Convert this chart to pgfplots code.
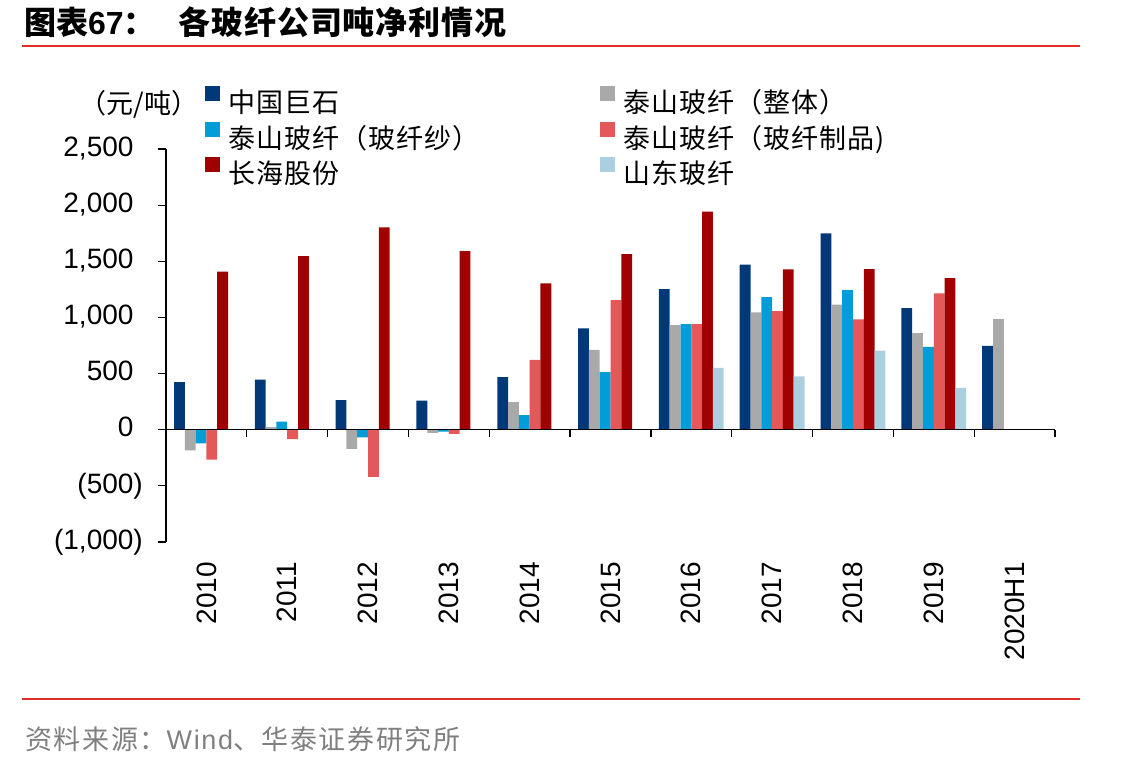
\documentclass[border=0pt]{standalone}
\usepackage{pgfplots}
\pgfplotsset{compat=1.18}
\usepackage{fontspec}
\setmainfont{Liberation Sans}
\newfontfamily\cjk{Noto Sans CJK SC}
\newfontfamily\cjkls{Noto Sans CJK SC}[LetterSpace=4]
\newfontfamily\cjkt{Noto Sans CJK SC}[LetterSpace=3]
\newfontfamily\srcfont{Liberation Sans}[LetterSpace=6]
\newfontfamily\srccjk{Noto Sans CJK SC}[LetterSpace=6]
\definecolor{c1}{RGB}{0,56,120}
\definecolor{c2}{RGB}{169,169,169}
\definecolor{c3}{RGB}{0,157,217}
\definecolor{c4}{RGB}{228,88,90}
\definecolor{c5}{RGB}{160,0,0}
\definecolor{c6}{RGB}{170,208,224}
\definecolor{hred}{RGB}{226,45,35}
\definecolor{srcgray}{RGB}{128,128,128}
\begin{document}
\begin{tikzpicture}[x=1pt,y=1pt]
\useasboundingbox (0,0) rectangle (1137,-767);
\fill[white] (0,0) rectangle (1137,-767);
% title
\node[anchor=west, inner sep=0pt] at (24,-22) {\fontsize{32}{32}\selectfont\cjk\bfseries 图表{\normalfont\bfseries 67}：};
\node[anchor=west, inner sep=0pt] at (178,-22) {\fontsize{32}{32}\selectfont\cjkt\bfseries 各玻纤公司吨净利情况};
\draw[hred, line width=2.5pt] (22,-46) -- (1080,-46);
% footer
\draw[hred, line width=2.5pt] (22,-699) -- (1080,-699);
\node[anchor=west, inner sep=0pt, text=srcgray] at (25,-739) {\fontsize{27}{27}\selectfont{\srccjk 资料来源：}{\srcfont Wind}{\srccjk 、华泰证券研究所}};
% unit
\node[inner sep=0pt] at (139,-104) {\fontsize{27}{27}\selectfont\cjk （元/吨）};

\begin{axis}[
  at={(166pt,-542pt)}, anchor=south west,
  scale only axis, width=889pt, height=393pt,
  xmin=-0.5, xmax=10.5, ymin=-1000, ymax=2500,
  ybar=0pt, bar width=10.8pt,
  every axis plot post/.append style={legend image code/.code={\fill[##1] (0pt,2.5pt) rectangle (15pt,17.5pt);}},
  axis x line=bottom, axis y line=left,
  axis line style={-, black, line width=1.2pt},
  x axis line style={draw=none},
  xtick={0,1,2,3,4,5,6,7,8,9,10},
  xticklabels={2010,2011,2012,2013,2014,2015,2016,2017,2018,2019,2020H1},
  xtick style={draw=none},
  xticklabel style={rotate=90, anchor=east, inner sep=0pt, font=\fontsize{28}{28}\selectfont},
  xticklabel shift=12pt,
  ytick={-1000,-500,0,500,1000,1500,2000,2500},
  yticklabels={{(1,000)},{(500)},{0\phantom{)}},{500\phantom{)}},{1,000\phantom{)}},{1,500\phantom{)}},{2,000\phantom{)}},{2,500\phantom{)}}},
  yticklabel style={anchor=east, inner sep=0pt, font=\fontsize{28}{28}\selectfont},
  yticklabel shift=15pt,
  ytick style={black, line width=1.2pt},
  tick align=outside, major tick length=8pt,
  legend columns=2, legend cell align=left,
  legend style={at={(axis description cs:0.0439,1.1603)}, anchor=north west,
    draw=none, fill=none, inner sep=0pt, outer sep=0pt,
    font=\cjkls\fontsize{27}{27}\selectfont, row sep=5pt,
    nodes={inner sep=0pt, text height=22pt, text depth=4pt, text width=253pt},
    /tikz/every odd column/.append style={column sep=8pt},
    /tikz/every even column/.append style={column sep=119pt}},
]
\addplot[fill=c1, draw=none] coordinates {(0,424) (1,447) (2,264) (3,258) (4,468) (5,903) (6,1252) (7,1471) (8,1748) (9,1083) (10,746)};
\addlegendentry{中国巨石}
\addplot[fill=c2, draw=none] coordinates {(0,-184) (1,24) (2,-171) (3,-29) (4,246) (5,710) (6,932) (7,1045) (8,1113) (9,861) (10,986)};
\addlegendentry{泰山玻纤（整体）}
\addplot[fill=c3, draw=none] coordinates {(0,-122) (1,71) (2,-68) (3,-18) (4,130) (5,512) (6,941) (7,1181) (8,1243) (9,737)};
\addlegendentry{泰山玻纤（玻纤纱）}
\addplot[fill=c4, draw=none] coordinates {(0,-266) (1,-83) (2,-420) (3,-36) (4,622) (5,1154) (6,941) (7,1057) (8,983) (9,1214)};
\addlegendentry{泰山玻纤（玻纤制品)}
\addplot[fill=c5, draw=none] coordinates {(0,1409) (1,1545) (2,1803) (3,1590) (4,1303) (5,1563) (6,1942) (7,1427) (8,1430) (9,1350)};
\addlegendentry{长海股份}
\addplot[fill=c6, draw=none] coordinates {(6,550) (7,476) (8,704) (9,373)};
\addlegendentry{山东玻纤}
\end{axis}
\begin{axis}[
  at={(166pt,-542pt)}, anchor=south west,
  scale only axis, width=889pt, height=393pt,
  xmin=-0.5, xmax=10.5, ymin=-1000, ymax=2500,
  axis x line=middle, axis y line=none,
  axis line style={-, black, line width=1.2pt},
  xtick={-0.5,0.5,1.5,2.5,3.5,4.5,5.5,6.5,7.5,8.5,9.5,10.5},
  xticklabels={},
  xtick style={black, line width=1.2pt},
  ytick=\empty,
  tick align=outside, major tick length=7pt,
]
\end{axis}
\end{tikzpicture}
\end{document}
